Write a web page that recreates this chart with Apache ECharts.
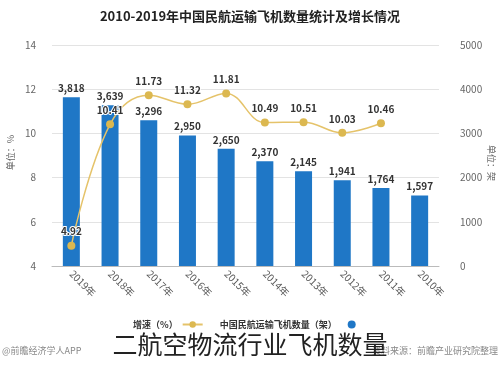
<!DOCTYPE html>
<html><head><meta charset="utf-8">
<script src="https://cdn.jsdelivr.net/npm/echarts@6/dist/echarts.min.js"></script>
<style>html,body{margin:0;padding:0;background:#fff}#c{width:500px;height:368px}</style>
</head><body><div id="c"></div>
<script>
const categories = ['2019年','2018年','2017年','2016年','2015年','2014年','2013年','2012年','2011年','2010年'];
const fleet = [3818, 3639, 3296, 2950, 2650, 2370, 2145, 1941, 1764, 1597];
const growth = [4.92, 10.41, 11.73, 11.32, 11.81, 10.49, 10.51, 10.03, 10.46, null];
const titleText = '2010-2019年中国民航运输飞机数量统计及增长情况';
const fleetName = '中国民航运输飞机数量（架）';
const growthName = '增速（%）';
const captionText = '二航空物流行业飞机数量';
const sourceLeft = '@前瞻经济学人APP';
const sourceRight = '资料来源：前瞻产业研究院整理';

const FONT = '"Noto Sans CJK SC", "Noto Sans", sans-serif';
const chart = echarts.init(document.getElementById('c'), null, {renderer: 'canvas'});
chart.setOption({
  animation: false,
  textStyle: {fontFamily: FONT},
  title: {
    text: titleText, left: 'center', top: 5,
    textStyle: {fontSize: 13, fontWeight: 'bold', color: '#222', fontFamily: FONT}
  },
  legend: {
    bottom: 34, left: 128, align: 'right', itemGap: 16,
    itemWidth: 20, itemHeight: 8,
    textStyle: {fontSize: 9, color: '#333', fontWeight: 'bold'},
    data: [
      {name: growthName},
      {name: fleetName, icon: 'circle'}
    ]
  },
  grid: {left: 52, right: 61, top: 45, bottom: 102},
  xAxis: {
    type: 'category', data: categories,
    axisLine: {lineStyle: {color: '#bbb'}},
    axisTick: {alignWithLabel: true, length: 4, lineStyle: {color: '#f0b860'}},
    axisLabel: {rotate: -45, fontSize: 10, color: '#555', margin: 6}
  },
  yAxis: [
    {
      type: 'value', min: 4, max: 14, interval: 2, position: 'left',
      axisLine: {show: false}, axisTick: {show: false},
      axisLabel: {fontSize: 10, color: '#666', margin: 16},
      splitLine: {lineStyle: {color: '#e3e3e3'}}
    },
    {
      type: 'value', min: 0, max: 5000, interval: 1000, position: 'right',
      axisLine: {show: false}, axisTick: {show: false},
      axisLabel: {fontSize: 10, color: '#666', margin: 21, formatter: v => String(v)},
      splitLine: {show: false}
    }
  ],
  series: [
    {
      name: fleetName, type: 'bar', yAxisIndex: 1, data: fleet, barWidth: 17,
      itemStyle: {color: '#1f77c6'},
      label: {show: true, position: 'top', distance: 4, fontSize: 10, fontWeight: 'bold', color: '#333',
        formatter: p => p.value.toLocaleString('en-US')}
    },
    {
      name: growthName, type: 'line', yAxisIndex: 0, data: growth, smooth: 0.4,
      symbol: 'circle', symbolSize: 8, connectNulls: false,
      lineStyle: {color: '#e5c36a', width: 1.5},
      itemStyle: {color: '#dcb850'},
      label: {show: true, position: 'top', distance: 5, fontSize: 10, fontWeight: 'bold', color: '#333',
        textBorderColor: '#fff', textBorderWidth: 2,
        formatter: p => p.value.toFixed(2)}
    }
  ],
  graphic: [
    {type: 'text', left: 6, top: 135, rotation: Math.PI / 2,
      style: {text: '单位：%', font: '9px ' + FONT, fill: '#666'}},
    {type: 'text', right: 4, top: 145, rotation: -Math.PI / 2,
      style: {text: '单位：架', font: '9px ' + FONT, fill: '#666'}},
    {type: 'text', left: 2, top: 346,
      style: {text: sourceLeft, font: '9px ' + FONT, fill: '#888'}},
    {type: 'text', right: 2, top: 346,
      style: {text: sourceRight, font: '9px ' + FONT, fill: '#888'}},
    {type: 'text', left: 'center', top: 332, z: 100,
      style: {text: captionText, font: '25px ' + FONT, fill: '#222'}}
  ]
});
</script></body></html>
